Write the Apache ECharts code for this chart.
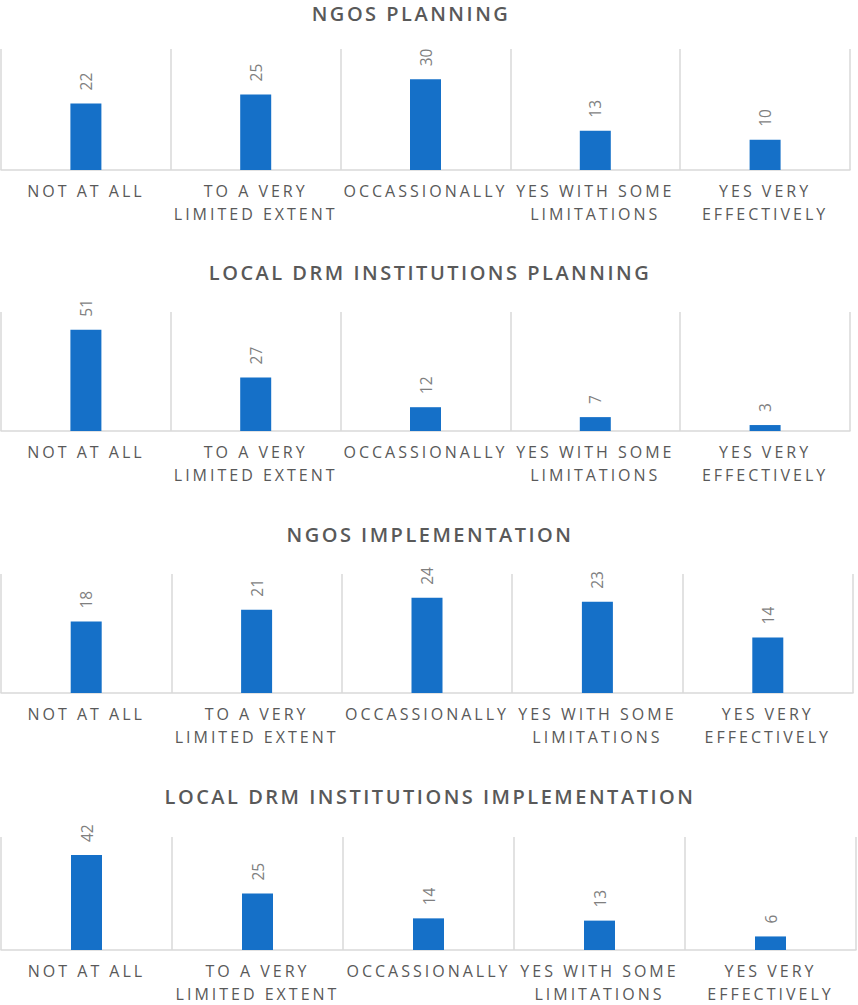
<!DOCTYPE html>
<html>
<head>
<meta charset="utf-8">
<script src="https://cdn.jsdelivr.net/npm/echarts@6/dist/echarts.min.js"></script>
<style>
  html, body { margin: 0; padding: 0; background: #fff; }
  #main { width: 858px; height: 1005px; }
  /* letter spacing like the original office chart */
  #main svg text[style*="20px"] { letter-spacing: 2.5px; }
  #main svg text[style*="16px"] { letter-spacing: 3px; }
</style>
</head>
<body>
<div id="main"></div>
<script>
// categories shared by all four panels
var categories = ['NOT AT ALL', 'TO A VERY\nLIMITED EXTENT', 'OCCASSIONALLY', 'YES WITH SOME\nLIMITATIONS', 'YES VERY\nEFFECTIVELY'];

var titles = ['NGOS PLANNING', 'LOCAL DRM INSTITUTIONS PLANNING', 'NGOS IMPLEMENTATION', 'LOCAL DRM INSTITUTIONS IMPLEMENTATION'];

var ngosPlanning = [22, 25, 30, 13, 10];
var drmPlanning = [51, 27, 12, 7, 3];
var ngosImplementation = [18, 21, 24, 23, 14];
var drmImplementation = [42, 25, 14, 13, 6];

var yMax = [40, 60, 30, 50];

var seriesData = [ngosPlanning, drmPlanning, ngosImplementation, drmImplementation];

// panel geometry (px)
var gridTop = [49, 312, 574, 837];
var gridHeight = [121, 119, 119, 118];
var gridRight = [8, 8, 5, 2];
var titleTop = [-3, 256, 518, 780];
var titleLeft = [406, 425, 425, 425];

var chart = echarts.init(document.getElementById('main'), null, { renderer: 'svg' });

var option = {
  animation: false,
  title: [],
  grid: [],
  xAxis: [],
  yAxis: [],
  series: []
};

for (var i = 0; i < 4; i++) {
  option.title.push({
    text: titles[i],
    left: titleLeft[i],
    top: titleTop[i],
    textAlign: 'center',
    textStyle: {
      fontFamily: 'Open Sans',
      fontSize: 20,
      lineHeight: 22,
      fontWeight: 600,
      color: '#595959'
    }
  });
  option.grid.push({
    left: 1,
    right: gridRight[i],
    top: gridTop[i],
    height: gridHeight[i],
    containLabel: false
  });
  option.xAxis.push({
    type: 'category',
    gridIndex: i,
    data: categories,
    axisLine: { lineStyle: { color: '#d9d9d9', width: 1.5 } },
    axisTick: { show: false },
    splitLine: { show: true, interval: 0, lineStyle: { color: '#d9d9d9', width: 1.5 } },
    axisLabel: {
      interval: 0,
      margin: 9,
      fontFamily: 'Open Sans',
      fontSize: 16,
      lineHeight: 23,
      color: '#595959'
    }
  });
  option.yAxis.push({
    type: 'value',
    gridIndex: i,
    min: 0,
    max: yMax[i],
    show: false,
    splitLine: { show: false }
  });
  option.series.push({
    type: 'bar',
    xAxisIndex: i,
    yAxisIndex: i,
    data: seriesData[i],
    barWidth: 31,
    itemStyle: { color: '#1570C8' },
    label: {
      show: true,
      position: 'top',
      rotate: 90,
      align: 'left',
      verticalAlign: 'middle',
      distance: 13,
      fontFamily: 'Open Sans',
      fontWeight: 400,
      fontSize: 15.5,
      color: '#7f7f7f'
    }
  });
}

chart.setOption(option);
</script>
</body>
</html>
